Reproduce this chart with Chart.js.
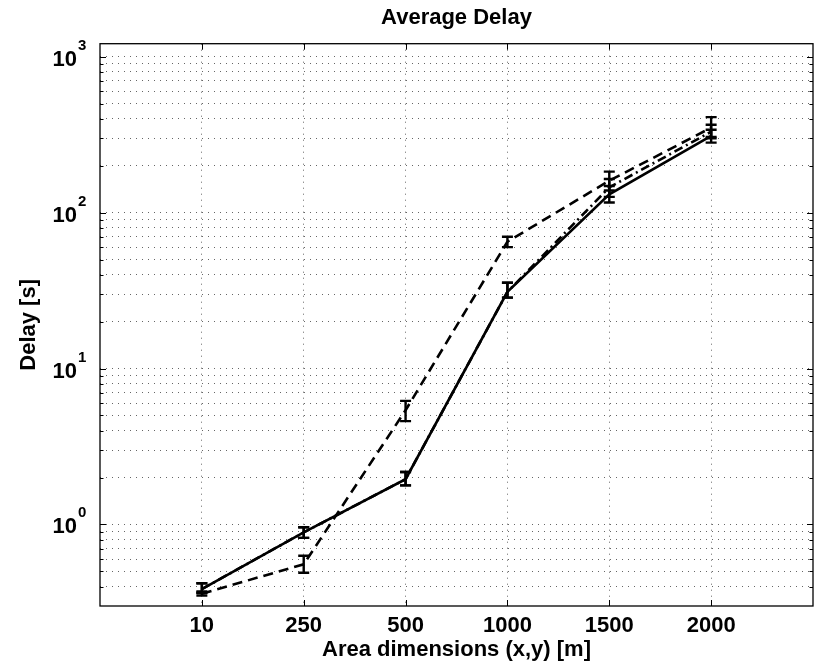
<!DOCTYPE html>
<html>
<head>
<meta charset="utf-8">
<script src="https://cdn.jsdelivr.net/npm/chart.js@4"></script>
<style>
  html, body { margin: 0; padding: 0; background: #fff; }
  #wrap { width: 820px; height: 667px; }
</style>
</head>
<body>
<div id="wrap"><canvas id="delayChart"></canvas></div>
<script>
// x categories (area side in metres)
const areaLabels = ['10', '250', '500', '1000', '1500', '2000'];

// solid line
const solidDelay = [0.385, 0.89, 1.95, 31, 131, 310];
const solidLow   = [0.365, 0.82, 1.78, 28.5, 116, 281];
const solidHigh  = [0.42, 0.96, 2.17, 35.5, 148, 340];

// dashed line
const dashedDelay = [0.36, 0.555, 5.4, 65, 160, 350];
const dashedLow   = [0.35, 0.49, 4.6, 60, 138.6, 305];
const dashedHigh  = [0.372, 0.63, 6.2, 70, 183, 409];

// dash-dot line (hidden under the solid one up to 1000)
const dotDashDelay = [0.385, 0.89, 1.95, 31, 145, 330];
const dotDashLow   = [0.365, 0.82, 1.78, 28.5, 126, 299];
const dotDashHigh  = [0.42, 0.96, 2.17, 35.5, 164, 366];

const yDecades = [0, 1, 2, 3];
const yMin = 0.343, yMax = 1210;

const fontFam = '"Liberation Sans", Arial, Helvetica, sans-serif';

// grid values of the log axis: 1..9 x 10^n inside the range
const yGrid = [];
[0.1, 1, 10, 100, 1000].forEach(d => {
  for (let k = 1; k <= 9; k++) {
    const v = +(k * d).toPrecision(3);
    if (v >= yMin && v <= yMax) yGrid.push(v);
  }
});

function pts(arr) {
  return arr.map((v, i) => ({x: i + 1, y: v}));
}

const matlabFrame = {
  id: 'matlabFrame',
  afterDatasetsDraw(chart) {
    const ctx = chart.ctx;
    const xs = chart.scales.x, ys = chart.scales.y;
    ctx.save();
    chart.data.datasets.forEach(ds => {
      ctx.strokeStyle = '#000';
      ctx.lineWidth = 2.4;
      ctx.setLineDash([]);
      ds.lo.forEach((lo, i) => {
        const px = xs.getPixelForValue(i + 1);
        const y1 = ys.getPixelForValue(lo);
        const y2 = ys.getPixelForValue(ds.hi[i]);
        ctx.beginPath();
        ctx.moveTo(px, y1); ctx.lineTo(px, y2);
        ctx.moveTo(px - 5.5, y1); ctx.lineTo(px + 5.5, y1);
        ctx.moveTo(px - 5.5, y2); ctx.lineTo(px + 5.5, y2);
        ctx.stroke();
      });
    });
    ctx.restore();
  },
  afterDraw(chart) {
    const ctx = chart.ctx;
    const a = chart.chartArea;
    const xs = chart.scales.x, ys = chart.scales.y;
    ctx.save();
    ctx.strokeStyle = '#000';
    ctx.lineWidth = 1.3;
    ctx.setLineDash([]);
    ctx.strokeRect(a.left, a.top, a.right - a.left, a.bottom - a.top);

    // inward ticks
    ctx.lineWidth = 1;
    ctx.beginPath();
    xs.ticks.forEach(t => {
      const px = Math.round(xs.getPixelForValue(t.value)) + 0.5;
      ctx.moveTo(px, a.bottom); ctx.lineTo(px, a.bottom - 6);
      ctx.moveTo(px, a.top); ctx.lineTo(px, a.top + 6);
    });
    ys.ticks.forEach(t => {
      const py = Math.round(ys.getPixelForValue(t.value)) + 0.5;
      const major = Math.abs(Math.log10(t.value) % 1) < 1e-9;
      const len = major ? 6 : 3.5;
      ctx.moveTo(a.left, py); ctx.lineTo(a.left + len, py);
      ctx.moveTo(a.right, py); ctx.lineTo(a.right - len, py);
    });
    ctx.stroke();

    // y tick labels 10^n
    ctx.fillStyle = '#000';
    yDecades.forEach(d => {
      const py = ys.getPixelForValue(Math.pow(10, d));
      ctx.font = 'bold 22px ' + fontFam;
      ctx.textAlign = 'right';
      ctx.textBaseline = 'alphabetic';
      ctx.fillText('10', a.left - 23, py + 9);
      ctx.font = 'bold 15px ' + fontFam;
      ctx.textAlign = 'left';
      ctx.fillText(String(d), a.left - 22, py - 7);
    });
    ctx.restore();
  }
};

new Chart(document.getElementById('delayChart'), {
  type: 'line',
  data: {
    datasets: [
      {
        label: 'Solid',
        data: pts(solidDelay),
        lo: solidLow, hi: solidHigh,
        borderColor: '#000',
        borderWidth: 2.6,
        pointRadius: 0,
        fill: false,
        tension: 0
      },
      {
        label: 'Dashed',
        data: pts(dashedDelay),
        lo: dashedLow, hi: dashedHigh,
        borderColor: '#000',
        borderWidth: 2.6,
        borderDash: [10, 6],
        pointRadius: 0,
        fill: false,
        tension: 0
      },
      {
        label: 'Dash-dot',
        data: pts(dotDashDelay),
        lo: dotDashLow, hi: dotDashHigh,
        borderColor: '#000',
        borderWidth: 2.6,
        borderDash: [9, 4, 2, 4],
        pointRadius: 0,
        fill: false,
        tension: 0
      }
    ]
  },
  plugins: [matlabFrame],
  options: {
    responsive: true,
    maintainAspectRatio: false,
    animation: false,
    devicePixelRatio: 1,
    layout: { padding: { top: 0, left: 0, right: 7, bottom: 0 } },
    plugins: {
      legend: { display: false },
      tooltip: { enabled: false },
      title: {
        display: true,
        fullSize: false,
        text: 'Average Delay',
        color: '#000',
        font: { family: fontFam, size: 22, weight: 'bold', lineHeight: 1 },
        padding: { top: 7.4, bottom: 14.3 }
      }
    },
    scales: {
      x: {
        type: 'linear',
        min: 0,
        max: 7,
        afterBuildTicks: scale => {
          scale.ticks = areaLabels.map((_, i) => ({ value: i + 1 }));
        },
        ticks: {
          autoSkip: false,
          maxRotation: 0,
          padding: 0,
          color: '#000',
          font: { family: fontFam, size: 22, weight: 'bold', lineHeight: 1 },
          callback: v => areaLabels[v - 1] || ''
        },
        grid: {
          color: 'rgba(0,0,0,0.6)',
          lineWidth: 1,
          drawTicks: true,
          tickLength: 9.4,
          tickColor: 'rgba(0,0,0,0)',
          borderDash: [1, 5]
        },
        border: { display: false, dash: [1, 5] },
        title: {
          display: true,
          text: 'Area dimensions (x,y) [m]',
          color: '#000',
          font: { family: fontFam, size: 22, weight: 'bold', lineHeight: 1 },
          padding: { top: 1.4, bottom: 6.2 }
        }
      },
      y: {
        type: 'logarithmic',
        min: yMin,
        max: yMax,
        afterBuildTicks: scale => {
          scale.ticks = yGrid.map(v => ({ value: v }));
        },
        ticks: { display: false },
        grid: {
          color: 'rgba(0,0,0,0.6)',
          lineWidth: 1,
          drawTicks: false,
          borderDash: [1, 5]
        },
        border: { display: false, dash: [1, 5] },
        title: {
          display: true,
          text: 'Delay [s]',
          color: '#000',
          font: { family: fontFam, size: 22, weight: 'bold', lineHeight: 1 },
          padding: { top: 18, bottom: 60 }
        }
      }
    }
  }
});
</script>
</body>
</html>
